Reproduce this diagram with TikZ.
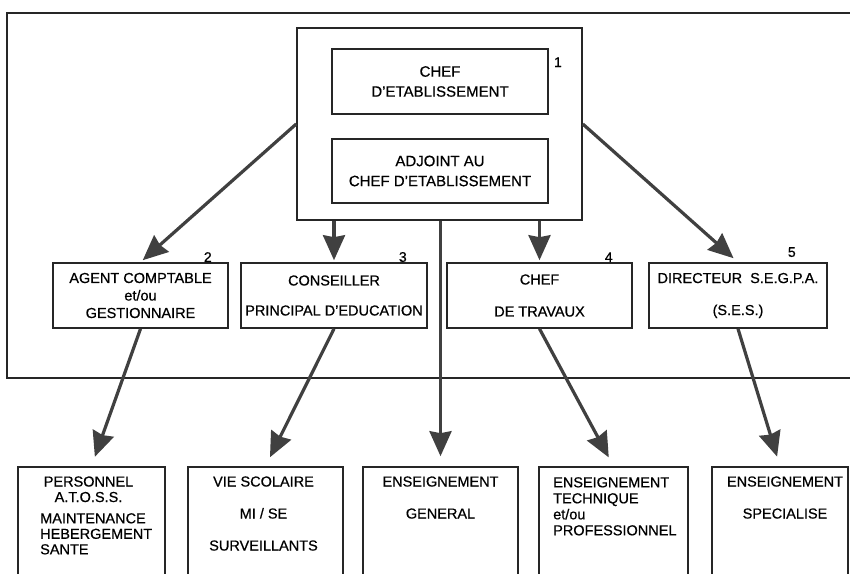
\documentclass[tikz,border=0pt]{standalone}
\usepackage{fontspec}
\setmainfont{Liberation Sans}[FakeBold=0.6]
\usetikzlibrary{arrows.meta,positioning}

\tikzset{
  box/.style={draw=black!85, line width=1.6pt, inner sep=0pt, align=center},
  txt/.style={inner sep=0pt, align=center},
  flow/.style={draw=black!75, line width=3.2pt, -{Stealth[length=25pt,width=22pt,inset=2pt]}},
  num/.style={inner sep=0pt, font=\fontsize{14}{16}\selectfont},
}

\begin{document}
\begin{tikzpicture}[x=1pt,y=-1pt,font=\fontsize{14.5}{20}\selectfont]
  \clip (0,0) rectangle (850,573);
  \fill[white] (0,0) rectangle (850,573);

  \draw[black!85, line width=2.2pt] (860,13) -- (7,13) -- (7,378) -- (860,378);

  \node[box, minimum width=285, minimum height=192] (dir) at (439.5,124) {};
  \node[box, minimum width=216, minimum height=65, font=\fontsize{15}{20}\selectfont] (chef) at (440,81.5) {CHEF\\D'ETABLISSEMENT};
  \node[box, minimum width=216, minimum height=64, font=\fontsize{15}{20}\selectfont] (adj) at (440,171) {ADJOINT AU\\CHEF D'ETABLISSEMENT};

  \node[box, minimum width=175, minimum height=65, font=\fontsize{14.5}{17.5}\selectfont] (agent) at (140.5,295.5) {AGENT COMPTABLE\\et/ou\\GESTIONNAIRE};
  \node[box, minimum width=186, minimum height=65] (cpe) at (334,295.5) {CONSEILLER\\[10pt]PRINCIPAL D'EDUCATION};
  \node[box, minimum width=185, minimum height=65] (trav) at (539.5,295.5) {CHEF\\[12pt]DE TRAVAUX};
  \node[box, minimum width=178, minimum height=65] (segpa) at (738,295.5) {DIRECTEUR\ \ S.E.G.P.A.\\[12pt](S.E.S.)};

  \node[num, anchor=north west] at ([shift={(5,9)}]chef.north east) {1};
  \node[num, anchor=south] at ([xshift=-21pt]agent.north east) {2};
  \node[num, anchor=south] at ([xshift=-25pt]cpe.north east) {3};
  \node[num, anchor=south] at ([xshift=-24pt]trav.north east) {4};
  \node[num, anchor=south] at ([shift={(-36,-5)}]segpa.north east) {5};

  \node[box, minimum width=147, minimum height=133] (atoss) at (91.5,533.5) {};
  \node[box, minimum width=155, minimum height=133] (vie) at (265.5,533.5) {};
  \node[box, minimum width=155, minimum height=133] (gen) at (440.5,533.5) {};
  \node[box, minimum width=149, minimum height=133] (tech) at (613.5,533.5) {};
  \node[box, minimum width=136, minimum height=133] (spec) at (780,533.5) {};

  \node[txt, font=\fontsize{14.5}{15.5}\selectfont, below=10pt of atoss.north, xshift=-3pt] (atoss1) {PERSONNEL\\A.T.O.S.S.};
  \node[txt, align=left, font=\fontsize{14.5}{15.5}\selectfont, anchor=north west] (atoss2) at (40,513) {MAINTENANCE\\HEBERGEMENT\\SANTE};
  \node[txt, below=10pt of vie.north, xshift=-2pt] {VIE SCOLAIRE\\[12pt]MI / SE\\[12pt]SURVEILLANTS};
  \node[txt, below=10pt of gen.north] {ENSEIGNEMENT\\[12pt]GENERAL};
  \node[txt, align=left, font=\fontsize{14.5}{16}\selectfont, anchor=north west] at (553,477) {ENSEIGNEMENT\\TECHNIQUE\\et/ou\\PROFESSIONNEL};
  \node[txt, below=10pt of spec.north, xshift=5pt] {ENSEIGNEMENT\\[12pt]SPECIALISE};

  \draw[flow, shorten >=3pt] (dir.west) -- (agent.north);
  \draw[flow, shorten >=2pt] (cpe.north |- dir.south) -- (cpe.north);
  \draw[flow, shorten >=10pt] (gen.north |- dir.south) -- (gen.north);
  \draw[flow, shorten >=2pt] (trav.north |- dir.south) -- (trav.north);
  \draw[flow, shorten >=6pt] (dir.east) -- (segpa.north);

  \draw[flow, shorten >=10pt] (agent.south) -- (atoss.north);
  \draw[flow, shorten >=10pt] (cpe.south) -- (vie.north);
  \draw[flow, shorten >=10pt] (trav.south) -- (tech.north);
  \draw[flow, shorten >=10pt] (segpa.south) -- (spec.north);
\end{tikzpicture}
\end{document}
